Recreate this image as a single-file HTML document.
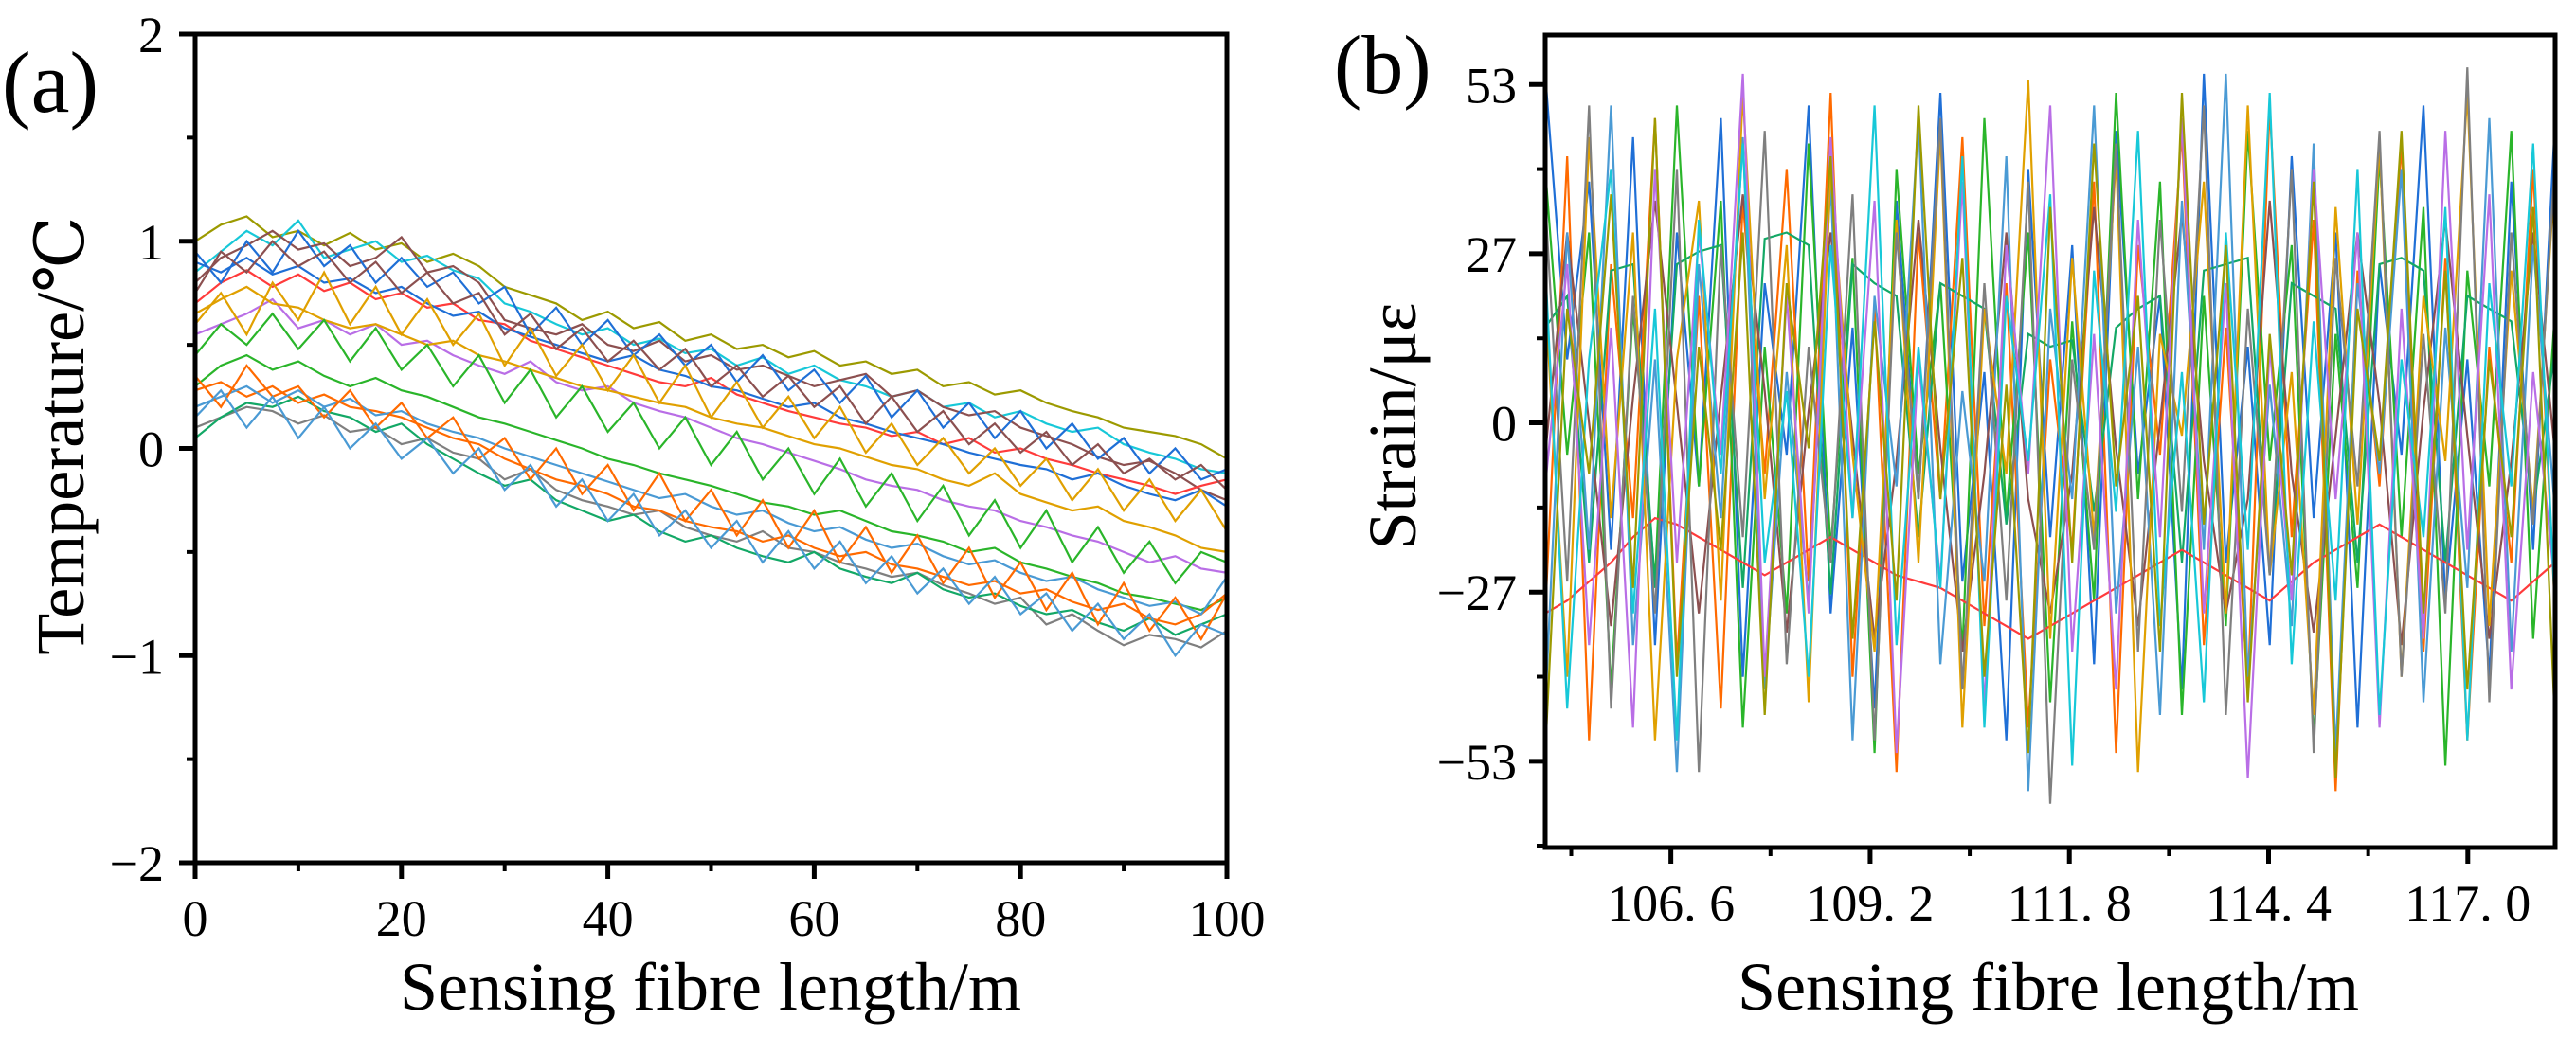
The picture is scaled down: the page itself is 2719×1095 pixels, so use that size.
<!DOCTYPE html>
<html><head><meta charset="utf-8"><style>
html,body{margin:0;padding:0;background:#fff;}
svg{display:block;}
svg text{font-family:"Liberation Serif","DejaVu Serif","Noto Serif CJK SC",serif;fill:#000;}
</style></head><body>
<svg id="fig" width="2719" height="1095" viewBox="0 0 2719 1095" xmlns="http://www.w3.org/2000/svg">
<g id="pa"></g>
<g id="pb"></g>
<text x="2" y="118" font-size="92">(a)</text>
<text x="1408" y="98" font-size="88">(b)</text>
<text x="750" y="1066" font-size="72" text-anchor="middle">Sensing fibre length/m</text>
<text transform="translate(88,460) rotate(-90)" font-size="72" text-anchor="middle">Temperature/℃</text>
<text x="2162" y="1066" font-size="72" text-anchor="middle">Sensing fibre length/m</text>
<text transform="translate(1494,450) rotate(-90)" font-size="72" text-anchor="middle">Strain/με</text>
</svg>
<script>
const aTicksX=[0,20,40,60,80,100];
const aTicksXLabels=["0","20","40","60","80","100"];
const aTicksY=[2,1,0,-1,-2];
const aTicksYLabels=["2","1","0","\u22121","\u22122"];
const a1=[1.00,1.08,1.12,1.02,1.05,0.98,1.04,0.96,0.99,0.90,0.94,0.88,0.78,0.74,0.70,0.62,0.66,0.58,0.61,0.52,0.55,0.48,0.50,0.44,0.47,0.40,0.42,0.36,0.38,0.30,0.32,0.26,0.28,0.22,0.18,0.15,0.10,0.08,0.06,0.02,-0.05];
const a2=[0.85,0.95,1.05,0.98,1.10,0.92,0.96,1.00,0.90,0.93,0.86,0.82,0.70,0.66,0.60,0.55,0.58,0.50,0.53,0.46,0.48,0.40,0.44,0.36,0.40,0.33,0.30,0.25,0.28,0.20,0.22,0.15,0.18,0.12,0.08,0.10,0.02,-0.02,-0.05,-0.10,-0.12];
const a3=[0.80,0.92,0.98,1.05,0.96,0.99,0.88,0.92,1.02,0.85,0.88,0.80,0.62,0.58,0.55,0.60,0.50,0.47,0.52,0.42,0.45,0.38,0.40,0.35,0.30,0.33,0.36,0.25,0.28,0.20,0.16,0.18,0.10,0.06,0.02,-0.04,-0.08,-0.06,-0.12,-0.20,-0.25];
const a4=[0.70,0.80,0.86,0.78,0.84,0.76,0.80,0.72,0.75,0.68,0.70,0.62,0.60,0.52,0.48,0.44,0.40,0.36,0.32,0.30,0.34,0.26,0.22,0.18,0.15,0.12,0.10,0.06,0.08,0.02,0.05,-0.02,0.00,-0.05,-0.08,-0.12,-0.15,-0.18,-0.22,-0.18,-0.15];
const a5=[0.90,0.85,0.92,0.84,0.88,0.80,0.82,0.75,0.78,0.70,0.64,0.66,0.58,0.54,0.50,0.46,0.42,0.45,0.38,0.35,0.30,0.28,0.24,0.20,0.22,0.15,0.12,0.08,0.05,0.02,-0.02,-0.05,-0.08,-0.10,-0.15,-0.12,-0.18,-0.22,-0.25,-0.20,-0.28];
const a6=[0.55,0.60,0.65,0.72,0.58,0.62,0.55,0.60,0.50,0.52,0.45,0.40,0.36,0.42,0.32,0.28,0.30,0.22,0.18,0.15,0.10,0.05,0.02,-0.02,-0.06,-0.10,-0.15,-0.18,-0.20,-0.25,-0.28,-0.30,-0.35,-0.38,-0.42,-0.45,-0.50,-0.55,-0.52,-0.58,-0.60];
const a7=[0.65,0.72,0.78,0.70,0.68,0.62,0.58,0.60,0.55,0.50,0.52,0.45,0.42,0.38,0.34,0.30,0.28,0.25,0.22,0.20,0.15,0.12,0.10,0.06,0.02,0.00,-0.04,-0.08,-0.10,-0.15,-0.18,-0.12,-0.22,-0.26,-0.30,-0.28,-0.35,-0.38,-0.42,-0.48,-0.50];
const a8=[0.30,0.40,0.45,0.38,0.42,0.35,0.30,0.34,0.28,0.25,0.20,0.15,0.12,0.08,0.04,0.00,-0.05,-0.08,-0.12,-0.15,-0.18,-0.22,-0.26,-0.28,-0.32,-0.30,-0.35,-0.40,-0.42,-0.45,-0.50,-0.48,-0.55,-0.58,-0.62,-0.65,-0.70,-0.72,-0.75,-0.78,-0.72];
const a9=[0.10,0.15,0.20,0.18,0.12,0.16,0.08,0.10,0.02,0.05,-0.02,-0.05,-0.15,-0.10,-0.20,-0.25,-0.28,-0.32,-0.30,-0.38,-0.42,-0.45,-0.40,-0.48,-0.50,-0.55,-0.58,-0.62,-0.60,-0.66,-0.70,-0.75,-0.72,-0.85,-0.80,-0.88,-0.95,-0.90,-0.92,-0.96,-0.88];
const a10=[0.05,0.15,0.22,0.20,0.25,0.18,0.15,0.08,0.12,0.02,-0.05,-0.12,-0.18,-0.15,-0.25,-0.30,-0.35,-0.32,-0.40,-0.45,-0.42,-0.48,-0.52,-0.55,-0.50,-0.58,-0.62,-0.65,-0.60,-0.68,-0.72,-0.70,-0.76,-0.80,-0.78,-0.84,-0.88,-0.82,-0.90,-0.85,-0.80];
const a11=[0.28,0.32,0.25,0.30,0.22,0.26,0.20,0.18,0.15,0.10,0.05,0.02,-0.05,-0.10,-0.15,-0.18,-0.22,-0.28,-0.30,-0.35,-0.38,-0.40,-0.45,-0.42,-0.48,-0.52,-0.50,-0.56,-0.58,-0.62,-0.66,-0.64,-0.70,-0.68,-0.74,-0.78,-0.75,-0.82,-0.85,-0.80,-0.70];
const a12=[0.20,0.25,0.30,0.22,0.28,0.20,0.24,0.16,0.18,0.12,0.08,0.05,0.00,-0.04,-0.08,-0.12,-0.16,-0.20,-0.24,-0.22,-0.28,-0.32,-0.30,-0.36,-0.40,-0.38,-0.44,-0.48,-0.46,-0.52,-0.56,-0.54,-0.60,-0.64,-0.62,-0.68,-0.72,-0.76,-0.74,-0.80,-0.62];
const a13=[0.95,0.80,1.00,0.85,1.05,0.88,0.98,0.80,0.92,0.78,0.85,0.70,0.78,0.55,0.68,0.50,0.62,0.45,0.55,0.40,0.50,0.32,0.45,0.28,0.38,0.22,0.35,0.15,0.28,0.10,0.22,0.05,0.18,0.00,0.12,-0.05,0.05,-0.12,0.00,-0.15,-0.10];
const a14=[0.60,0.75,0.55,0.80,0.62,0.85,0.60,0.78,0.55,0.72,0.50,0.65,0.40,0.58,0.35,0.50,0.28,0.45,0.22,0.40,0.15,0.32,0.10,0.25,0.05,0.20,-0.02,0.12,-0.08,0.05,-0.12,0.00,-0.18,-0.05,-0.25,-0.10,-0.30,-0.15,-0.35,-0.20,-0.40];
const a15=[0.35,0.20,0.40,0.25,0.30,0.15,0.28,0.10,0.22,0.05,0.15,-0.05,0.05,-0.15,0.00,-0.22,-0.08,-0.30,-0.12,-0.35,-0.20,-0.42,-0.25,-0.48,-0.30,-0.55,-0.38,-0.60,-0.42,-0.65,-0.48,-0.72,-0.55,-0.78,-0.60,-0.85,-0.65,-0.88,-0.72,-0.92,-0.70];
const a16=[0.45,0.60,0.50,0.65,0.48,0.62,0.42,0.58,0.38,0.50,0.30,0.45,0.22,0.38,0.15,0.30,0.08,0.22,0.00,0.15,-0.08,0.08,-0.15,0.00,-0.22,-0.05,-0.28,-0.12,-0.35,-0.18,-0.42,-0.25,-0.48,-0.30,-0.55,-0.38,-0.60,-0.45,-0.65,-0.50,-0.55];
const a17=[0.15,0.28,0.10,0.25,0.05,0.20,0.00,0.12,-0.05,0.05,-0.12,0.00,-0.20,-0.08,-0.28,-0.15,-0.35,-0.22,-0.42,-0.30,-0.48,-0.35,-0.55,-0.40,-0.58,-0.45,-0.65,-0.52,-0.70,-0.58,-0.75,-0.62,-0.80,-0.70,-0.88,-0.75,-0.92,-0.80,-1.00,-0.85,-0.90];
const a18=[0.75,0.95,0.85,1.00,0.88,0.95,0.80,0.90,0.75,0.85,0.70,0.75,0.55,0.65,0.48,0.58,0.42,0.52,0.38,0.48,0.30,0.40,0.25,0.35,0.20,0.30,0.12,0.25,0.08,0.18,0.02,0.12,-0.02,0.08,-0.08,0.02,-0.12,-0.05,-0.15,-0.08,-0.20];

const bTicksX=[106.6,109.2,111.8,114.4,117.0];
const bTicksXLabels=["106. 6","109. 2","111. 8","114. 4","117. 0"];
const bTicksY=[53.3,26.65,0,-26.65,-53.3];
const bTicksYLabels=["53","27","0","\u221227","\u221253"];
const b1=[55,10,38,-20,45,-35,30,-10,48,-40,22,-5,50,-30,15,-45,35,-12,52,-25,8,-50,40,-18,28,-38,46,-8,20,-42,55,-22,12,-35,42,-15,30,-48,25,-5,50,-28,10,-40,38,-20,48];
const b2=[-30,42,-50,25,-15,48,-38,20,-45,35,-8,40,-25,52,-40,18,-55,30,-12,45,-32,22,-48,10,-20,38,-52,28,-5,46,-35,15,-42,50,-18,32,-58,24,-10,44,-36,26,-50,12,-22,40,-30];
const b3=[40,-5,30,-42,18,-25,50,-10,35,-48,12,-30,44,-20,26,-52,40,-8,22,-36,48,-15,30,-44,16,-28,52,-12,38,-46,20,-32,46,-6,28,-50,14,-26,42,-18,34,-54,24,-10,46,-34,18];
const b4=[15,20,-22,24,25,-26,25,27,28,-26,29,30,28,-27,25,22,20,-18,22,20,18,-16,14,12,13,-14,15,18,20,-22,24,25,26,-24,22,20,18,-22,25,26,24,-22,20,18,16,-14,12];
const b5=[-30,-28,-25,-22,-18,-15,-16,-18,-20,-22,-24,-22,-20,-18,-20,-22,-24,-25,-26,-28,-30,-32,-34,-32,-30,-28,-26,-24,-22,-20,-22,-24,-26,-28,-25,-22,-20,-18,-16,-18,-20,-22,-24,-26,-28,-25,-22];
const b6=[-5,30,0,-32,4,35,3,-30,4,36,5,-33,2,30,-2,-34,-6,32,-4,-36,-8,30,-12,-30,-8,34,-4,-32,0,33,-6,-30,-12,35,-8,-33,-2,30,3,-35,2,32,-2,-34,-6,30,-5];
const b7=[-45,30,-20,50,-35,10,-55,25,-15,45,-42,8,-28,38,-50,20,-10,48,-38,5,-25,42,-58,18,-12,50,-30,12,-46,35,-20,55,-40,6,-32,44,-52,22,-8,40,-44,15,-26,48,-36,28,-14];
const b8=[20,-40,45,-15,30,-50,10,35,-28,52,-12,28,-44,40,-5,-36,32,-22,46,-48,18,-8,54,-34,26,-18,42,-55,14,-2,38,-30,50,-24,8,-46,34,-16,44,-40,20,-6,52,-32,24,-14,40];
const b9=[35,-25,50,-45,20,-30,40,-55,28,-18,46,-38,12,-22,36,-50,30,-12,48,-42,22,-28,38,-60,10,-20,44,-36,32,-14,50,-46,18,-24,40,-52,26,-10,46,-40,14,-30,56,-44,30,-16,42];
const b10=[-10,25,-35,15,-48,40,-22,30,-5,55,-40,20,-30,45,-15,35,-52,10,-25,38,-45,28,-8,50,-36,14,-42,32,-18,48,-30,22,-56,12,-28,40,-12,30,-48,18,-34,46,-20,36,-42,8,-26];
const b11=[25,-45,10,40,-30,18,-50,32,-8,44,-22,5,-40,28,-15,50,-35,12,-26,42,-48,20,-6,36,-54,24,-14,46,-32,8,-44,30,-20,52,-38,16,-28,40,-46,10,-18,34,-50,22,-10,44,-30];
const b12=[-52,18,-8,36,-26,48,-40,12,-20,30,-46,22,-4,42,-34,16,-28,50,-12,26,-40,6,-52,34,-22,44,-10,20,-36,52,-16,28,-44,14,-24,38,-56,18,-6,46,-30,24,-42,10,-18,34,-48];

const colorsA=["#9c9a00","#17c8d8","#8c5050","#ff3b3b","#1f6fd6","#b96ee6","#e0a000","#2ab52a","#7f7f7f","#13a866","#ff6a00","#4a9ad4","#1f6fd6","#e0a000","#ff6a00","#2ab52a","#4a9ad4","#8c5050"];
const colorsB=["#1f6fd6","#ff6a00","#2ab52a","#13a866","#ff3b3b","#8c5050","#4a9ad4","#e0a000","#7f7f7f","#b96ee6","#17c8d8","#9c9a00"];

const NS="http://www.w3.org/2000/svg";
function mk(tag,attrs,parent){const e=document.createElementNS(NS,tag);for(const k in attrs)e.setAttribute(k,attrs[k]);parent.appendChild(e);return e;}

function drawPanel(g,cfg){
  const sx=v=>cfg.L+(v-cfg.x0)/(cfg.x1-cfg.x0)*(cfg.R-cfg.L);
  const sy=v=>cfg.B-(v-cfg.y0)/(cfg.y1-cfg.y0)*(cfg.B-cfg.T);
  const clip=mk('clipPath',{id:cfg.id+'clip'},g);
  mk('rect',{x:cfg.L,y:cfg.T,width:cfg.R-cfg.L,height:cfg.B-cfg.T},clip);
  const lines=mk('g',{'clip-path':'url(#'+cfg.id+'clip)'},g);
  
  
  cfg.series.forEach((s,i)=>{
    const n=s.length;
    const pts=s.map((v,j)=>sx(cfg.x0+j*(cfg.x1-cfg.x0)/(n-1)).toFixed(1)+','+sy(v).toFixed(1)).join(' ');
    const p=mk('polyline',{points:pts,fill:'none',stroke:cfg.colors[i%cfg.colors.length],'stroke-width':2.2,'stroke-linejoin':'miter'},lines);
    
    
  });
  const frame=mk('rect',{x:cfg.L,y:cfg.T,width:cfg.R-cfg.L,height:cfg.B-cfg.T,fill:'none',stroke:'#000','stroke-width':5},g);
  
  
  cfg.tx.forEach((v,i)=>{
    const x=sx(v);
    mk('line',{x1:x,x2:x,y1:cfg.B,y2:cfg.B+17,stroke:'#000','stroke-width':5},g);
    const t=mk('text',{x:x,y:cfg.B+77,'font-size':54,'text-anchor':'middle'},g);
    t.textContent=cfg.txl[i];
    
    
  });
  cfg.mx.forEach(v=>{const x=sx(v);mk('line',{x1:x,x2:x,y1:cfg.B,y2:cfg.B+9,stroke:'#000','stroke-width':4},g);});
  cfg.ty.forEach((v,i)=>{
    const y=sy(v);
    mk('line',{x1:cfg.L-17,x2:cfg.L,y1:y,y2:y,stroke:'#000','stroke-width':5},g);
    const t=mk('text',{x:cfg.L-cfg.labGap,y:y+19,'font-size':54,'text-anchor':'end'},g);
    t.textContent=cfg.tyl[i];
    
    
  });
  cfg.my.forEach(v=>{const y=sy(v);mk('line',{x1:cfg.L-9,x2:cfg.L,y1:y,y2:y,stroke:'#000','stroke-width':4},g);});
}

drawPanel(document.getElementById('pa'),{id:'panel-a',L:206,R:1295,T:36,B:911,x0:0,x1:100,y0:-2,y1:2,
  series:[a1,a2,a3,a4,a5,a6,a7,a8,a9,a10,a11,a12,a13,a14,a15,a16,a17,a18],colors:colorsA,
  tx:aTicksX,txl:aTicksXLabels,mx:[10,30,50,70,90],ty:aTicksY,tyl:aTicksYLabels,my:[1.5,0.5,-0.5,-1.5],labGap:33});
drawPanel(document.getElementById('pb'),{id:'panel-b',L:1631,R:2697,T:37,B:895,x0:104.96,x1:118.14,y0:-66.9,y1:61.1,
  series:[b1,b2,b3,b4,b5,b6,b7,b8,b9,b10,b11,b12],colors:colorsB,
  tx:bTicksX,txl:bTicksXLabels,mx:[105.3,107.9,110.5,113.1,115.7],ty:bTicksY,tyl:bTicksYLabels,my:[39.975,13.325,-13.325,-39.975,-66.6],labGap:30});
</script>
</body></html>
